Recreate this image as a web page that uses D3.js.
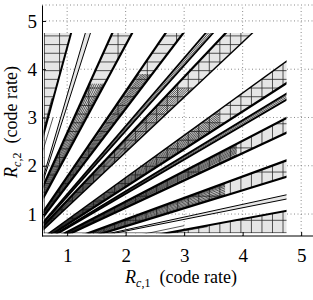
<!DOCTYPE html>
<html>
<head>
<meta charset="utf-8">
<script src="https://cdn.jsdelivr.net/npm/d3@7"></script>
<style>
  body { margin: 0; background: #fff; }
  svg { display: block; }
  svg text { font-family: "Liberation Serif", "DejaVu Serif", serif; }
</style>
</head>
<body>
<div id="chart"></div>
<script>
// Axis ticks
const xTicks = [1, 2, 3, 4, 5];
const yTicks = [1, 2, 3, 4, 5];

// Rates are limited to this box
const rateMin = 0.6;
const rateMax = 4.75;

// Bands above the diagonal; each boundary is R2 = slope * R1 + offset.
// The bands below the diagonal are the same with R1 and R2 swapped.
const bandLowSlope   = [4.45, 3.79, 2.25, 1.59, 1.36, 1.14];
const bandLowOffset  = [0, -0.55, 0, 0, 0, 0];
const bandHighSlope  = [1000, 4.15, 2.68, 1.77, 1.41, 1.28];
const bandHighOffset = [-605, -0.69, 0, 0, 0, 0];
const bandHatched    = [true, false, true, true, false, true];
const bandHatchBoth  = [false, false, false, false, false, true];
const bandEdgeLow    = [2.0, 1.0, 2.2, 2.2, 1.8, 1.4];
const bandEdgeHigh   = [0.8, 1.0, 2.2, 2.2, 1.8, 2.2];

// thin inner lines of each band (ratio R2/R1) and the R2 where they stop
const bandFan = [
    [4.52, 4.6],
    [3.95],
    [2.28, 2.31, 2.35, 2.4, 2.46, 2.52, 2.58, 2.63, 2.66],
    [1.605, 1.62, 1.64, 1.66, 1.68, 1.70, 1.72, 1.745, 1.76],
    [1.375, 1.39],
    [1.15, 1.165, 1.18, 1.195, 1.21, 1.225, 1.24, 1.255, 1.27]
];
const bandFanEnd = [3.4, 3.0, 3.7, 3.9, 4.75, 3.6];

// hatch lines
const hatchFine   = [0.73, 0.91, 1.09, 1.27, 1.45, 1.63, 1.81, 1.99, 2.17, 2.35, 2.53, 2.71,
                     2.89, 3.07, 3.25, 3.43, 3.61, 3.79, 3.97, 4.15, 4.33, 4.51, 4.69];
const hatchCoarse = [0.87, 1.37, 1.87, 2.37, 2.87, 3.37, 3.87, 4.37];

const width = 313, height = 300;

const svg = d3.select("#chart")
    .append("svg")
    .attr("width", width)
    .attr("height", height);

const x = d3.scaleLinear().domain([0.57, 5.5]).range([42, 330.4]);
const y = d3.scaleLinear().domain([0.545, 5.33]).range([236, 5]);

// Grid (dotted)
const grid = svg.append("g")
    .attr("stroke", "#8a8a8a")
    .attr("stroke-width", 1)
    .attr("stroke-dasharray", "1,2.5");
grid.selectAll(".gx").data(xTicks).join("line")
    .attr("x1", d => x(d)).attr("x2", d => x(d))
    .attr("y1", y.range()[0]).attr("y2", y.range()[1]);
grid.selectAll(".gy").data(yTicks.concat([y.domain()[1]])).join("line")
    .attr("x1", x.range()[0]).attr("x2", width)
    .attr("y1", d => y(d)).attr("y2", d => y(d));

// Build both halves
const bands = [];
bandLowSlope.forEach((_, i) => {
    [false, true].forEach(flip => bands.push({
        id: `b${i}${flip ? "m" : "u"}`,
        i, flip,
        lo: [bandLowSlope[i], bandLowOffset[i]],
        hi: [bandHighSlope[i], bandHighOffset[i]]
    }));
});

const pt = (flip, r1, r2) => flip ? [x(r2), y(r1)] : [x(r1), y(r2)];
const onLine = (l, t) => [t, l[0] * t + l[1]];
const poly = b => [onLine(b.lo, 0), onLine(b.lo, 10), onLine(b.hi, 10), onLine(b.hi, 0)]
    .map(p => pt(b.flip, p[0], p[1]));
const line = d3.line();

const defs = svg.append("defs");
defs.append("clipPath").attr("id", "box").append("rect")
    .attr("x", x(rateMin)).attr("y", y(rateMax))
    .attr("width", x(rateMax) - x(rateMin))
    .attr("height", y(rateMin) - y(rateMax));
bands.forEach(b => {
    defs.append("clipPath").attr("id", "clip-" + b.id)
        .append("path").attr("d", line(poly(b)) + "Z");
});

const plot = svg.append("g").attr("clip-path", "url(#box)");

// Fills
plot.append("g").selectAll("path").data(bands).join("path")
    .attr("d", b => line(poly(b)) + "Z")
    .attr("fill", "#e6e6e6")
    .attr("stroke", "none");

// Hatching
bands.filter(b => bandHatched[b.i]).forEach(b => {
    const g = plot.append("g").attr("clip-path", `url(#clip-${b.id})`)
        .attr("stroke", "#2a2a2a").attr("stroke-width", 0.8);
    const across = bandHatchBoth[b.i] ? hatchFine : hatchCoarse;
    g.selectAll(".h").data(hatchFine).join("path")
        .attr("d", v => line([pt(b.flip, 0, v), pt(b.flip, 6, v)]));
    g.selectAll(".v").data(across).join("path")
        .attr("d", v => line([pt(b.flip, v, 0), pt(b.flip, v, 6)]));
});

// Thin inner lines
bands.forEach(b => {
    const end = bandFanEnd[b.i];
    plot.append("g").attr("stroke", "#111").attr("stroke-width", 0.7)
        .selectAll("path").data(bandFan[b.i]).join("path")
        .attr("d", r => line([pt(b.flip, 0, 0), pt(b.flip, end / r, end)]));
});

// Band edges
bands.forEach(b => {
    plot.append("path")
        .attr("d", line([onLine(b.lo, 0), onLine(b.lo, 10)].map(p => pt(b.flip, p[0], p[1]))))
        .attr("stroke", "#000").attr("stroke-width", bandEdgeLow[b.i]).attr("fill", "none");
    plot.append("path")
        .attr("d", line([onLine(b.hi, 0), onLine(b.hi, 10)].map(p => pt(b.flip, p[0], p[1]))))
        .attr("stroke", "#000").attr("stroke-width", bandEdgeHigh[b.i]).attr("fill", "none");
});

// Axes
const xAxis = svg.append("g")
    .attr("transform", `translate(0,${y.range()[0]})`)
    .call(d3.axisBottom(x).tickValues(xTicks).tickSize(-4).tickSizeOuter(0).tickPadding(13).tickFormat(d3.format("d")));
xAxis.select(".domain").attr("d", `M${x.range()[0]},0H${width}`);
const yAxis = svg.append("g")
    .attr("transform", `translate(${x.range()[0]},0)`)
    .call(d3.axisLeft(y).tickValues(yTicks).tickSize(-4).tickSizeOuter(0).tickPadding(5).tickFormat(d3.format("d")));
[xAxis, yAxis].forEach(a => {
    a.attr("font-family", null);
    a.selectAll("text").attr("font-size", 19).attr("fill", "#000");
    a.selectAll("line, path").attr("stroke", "#000");
});

// Axis titles
function title(sel, sub) {
    sel.attr("font-size", 18).attr("fill", "#000");
    sel.append("tspan").attr("font-style", "italic").text("R");
    sel.append("tspan").attr("font-size", 12).attr("dy", 4).attr("font-style", "italic").text("c");
    sel.append("tspan").attr("font-size", 12).text("," + sub);
    sel.append("tspan").attr("dy", -4).text("\u2002(code rate)");
}
svg.append("text").attr("x", 181).attr("y", 283).attr("text-anchor", "middle").call(title, "1");
svg.append("text").attr("transform", "translate(17,122) rotate(-90)").attr("text-anchor", "middle").call(title, "2");
</script>
</body>
</html>
